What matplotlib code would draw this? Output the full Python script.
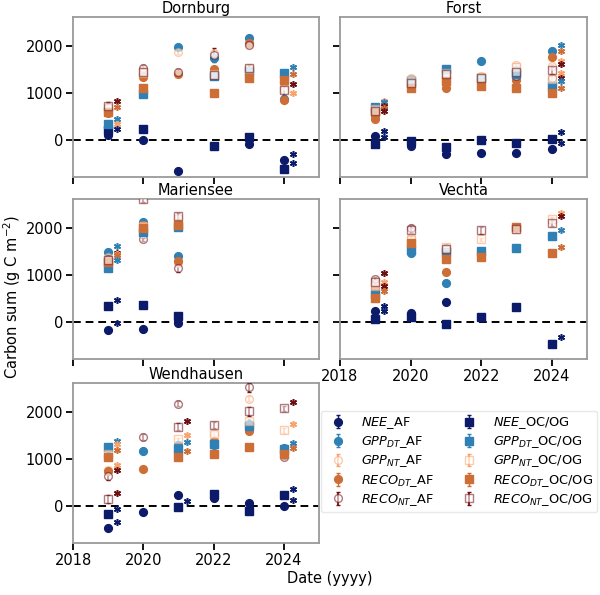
import numpy as np
import matplotlib.pyplot as plt
from matplotlib.colors import to_rgba

n = np.nan
YEARS = [2019, 2020, 2021, 2022, 2023, 2024]
SITES = ["Dornburg", "Forst", "Mariensee", "Vechta", "Wendhausen"]
SERIES = ["NEE", "GPP_DT", "GPP_NT", "RECO_DT", "RECO_NT"]
SYSTEMS = ["AF", "OC"]
SYSTEM_LABELS = {"AF": "AF", "OC": "OC/OG"}
SERIES_LABELS = {"NEE": r"$NEE$", "GPP_DT": r"$GPP_{DT}$", "GPP_NT": r"$GPP_{NT}$",
                 "RECO_DT": r"$RECO_{DT}$", "RECO_NT": r"$RECO_{NT}$"}
COLORS = {"NEE": "#0c1a6a", "GPP_DT": "#2e80b5", "GPP_NT": "#f8a36c",
          "RECO_DT": "#cc6e36", "RECO_NT": "#6e0f14"}
X_TICKS = [2018, 2020, 2022, 2024]
Y_TICKS = [0, 1000, 2000]

DORNBURG = {
    "NEE_AF": [90, 0, -665, n, -90, -430],
    "NEE_OC": [200, 225, n, -140, 50, -630],
    "GPP_DT_AF": [260, 1400, 1980, 1750, 2170, 870],
    "GPP_DT_OC": [330, 980, n, 1360, 1465, 1430],
    "GPP_NT_AF": [650, 1480, 1870, 1855, 2040, 1150],
    "GPP_NT_OC": [680, 1430, n, 1400, 1500, 1080],
    "RECO_DT_AF": [560, 1340, 1395, 1500, 2070, 840],
    "RECO_DT_OC": [580, 1100, n, 1005, 1310, 1270],
    "RECO_NT_AF": [700, 1530, 1440, 1800, 2030, 1230],
    "RECO_NT_OC": [720, 1450, n, 1380, 1530, 1055],
}
DORNBURG_ERR = {"GPP_NT_AF": [40, 40, 40, 60, 40, 40], "GPP_NT_OC": [40, 40, n, 40, 40, 40],
                "RECO_NT_AF": [80, 70, 60, 150, 60, 60], "RECO_NT_OC": [80, 80, n, 60, 70, 110]}
DORNBURG_STARS = [(2019, "RECO_NT", 830), (2019, "RECO_DT", 690), (2019, "GPP_DT", 450),
                  (2019, "GPP_NT", 340), (2019, "NEE", 230),
                  (2024, "GPP_DT", 1555), (2024, "RECO_DT", 1395), (2024, "RECO_NT", 1195),
                  (2024, "GPP_NT", 1005), (2024, "NEE", -305), (2024, "NEE", -495)]

FORST = {
    "NEE_AF": [85, -140, -305, -290, -290, -200],
    "NEE_OC": [-100, -40, -165, 0, -80, 15],
    "GPP_DT_AF": [520, 1290, 1220, 1680, 1480, 1890],
    "GPP_DT_OC": [700, 1250, 1500, 1310, 1400, 1150],
    "GPP_NT_AF": [560, 1320, 1300, 1360, 1600, 1570],
    "GPP_NT_OC": [650, 1280, 1420, 1330, 1550, 1300],
    "RECO_DT_AF": [440, 1150, 1100, 1250, 1280, 1770],
    "RECO_DT_OC": [580, 1110, 1250, 1150, 1110, 985],
    "RECO_NT_AF": [600, 1250, 1350, 1300, 1350, 1320],
    "RECO_NT_OC": [620, 1200, 1400, 1320, 1450, 1480],
}
FORST_ERR = {"GPP_NT_AF": [40, 40, 40, 40, 40, 40], "GPP_NT_OC": [40, 40, 40, 40, 40, 40],
             "RECO_NT_AF": [60, 60, 60, 60, 60, 80], "RECO_NT_OC": [60, 60, 60, 60, 60, 80]}
FORST_STARS = [(2019, "GPP_NT", 830), (2019, "GPP_DT", 800), (2019, "RECO_NT", 720),
               (2019, "RECO_DT", 680), (2019, "RECO_NT", 615), (2019, "NEE", 190), (2019, "NEE", 50),
               (2024, "GPP_DT", 2020), (2024, "RECO_DT", 1890), (2024, "GPP_NT", 1690),
               (2024, "RECO_NT", 1620), (2024, "GPP_NT", 1430), (2024, "RECO_NT", 1320),
               (2024, "GPP_DT", 1250), (2024, "RECO_DT", 1110), (2024, "NEE", 155), (2024, "NEE", -80)]

MARIENSEE = {
    "NEE_AF": [-185, -155, -40, n, n, n],
    "NEE_OC": [325, 355, 125, n, n, n],
    "GPP_DT_AF": [1480, 2120, 1400, n, n, n],
    "GPP_DT_OC": [1155, 1910, 2030, n, n, n],
    "GPP_NT_AF": [1380, 2050, 1250, n, n, n],
    "GPP_NT_OC": [1300, 2050, 2200, n, n, n],
    "RECO_DT_AF": [1300, 2060, 1300, n, n, n],
    "RECO_DT_OC": [1275, 2000, 2060, n, n, n],
    "RECO_NT_AF": [1345, 1755, 1140, n, n, n],
    "RECO_NT_OC": [1320, 2620, 2260, n, n, n],
}
MARIENSEE_ERR = {"GPP_NT_AF": [40, 40, 40, n, n, n], "GPP_NT_OC": [40, 40, 40, n, n, n],
                 "RECO_NT_AF": [60, 40, 80, n, n, n], "RECO_NT_OC": [60, 60, 60, n, n, n]}
MARIENSEE_STARS = [(2019, "GPP_DT", 1610), (2019, "RECO_NT", 1470), (2019, "GPP_NT", 1450),
                   (2019, "RECO_DT", 1430), (2019, "GPP_DT", 1320), (2019, "NEE", 470), (2019, "NEE", -40)]

VECHTA = {
    "NEE_AF": [220, 185, 410, n, n, n],
    "NEE_OC": [60, 100, -55, 100, 305, -475],
    "GPP_DT_AF": [610, 1470, 820, n, n, n],
    "GPP_DT_OC": [600, 1520, 1490, 1510, 1565, 1825],
    "GPP_NT_AF": [800, 1800, 1500, n, n, n],
    "GPP_NT_OC": [750, 1750, 1600, 1755, 1980, 2200],
    "RECO_DT_AF": [715, 1635, 1060, n, n, n],
    "RECO_DT_OC": [500, 1680, 1330, 1385, 2020, 1460],
    "RECO_NT_AF": [920, 2000, 1575, n, n, n],
    "RECO_NT_OC": [850, 1950, 1560, 1950, 1970, 2110],
}
VECHTA_ERR = {"GPP_NT_AF": [40, 40, 40, n, n, n], "GPP_NT_OC": [40, 40, 40, 40, 40, 40],
              "RECO_NT_AF": [40, 60, 60, n, n, n], "RECO_NT_OC": [40, 60, 60, 80, 60, 60]}
VECHTA_STARS = [(2019, "RECO_NT", 1045), (2019, "GPP_NT", 855), (2019, "RECO_NT", 765),
                (2019, "RECO_DT", 645), (2019, "NEE", 340), (2019, "NEE", 235),
                (2024, "GPP_NT", 2320), (2024, "RECO_NT", 2250), (2024, "GPP_DT", 1950),
                (2024, "RECO_DT", 1600), (2024, "NEE", -335)]

WENDHAUSEN = {
    "NEE_AF": [-470, -140, 235, 165, 55, 0],
    "NEE_OC": [-190, n, -20, 250, -120, 220],
    "GPP_DT_AF": [1050, 1170, 1295, 1295, 1750, 1225],
    "GPP_DT_OC": [1250, n, 1200, 1320, 1700, 1200],
    "GPP_NT_AF": [760, n, n, 1535, 2285, 1150],
    "GPP_NT_OC": [1100, n, 1415, 1540, 1800, 1605],
    "RECO_DT_AF": [740, 780, 1150, 1380, 1600, 1100],
    "RECO_DT_OC": [1045, n, 1045, 1100, 1255, 1100],
    "RECO_NT_AF": [635, 1465, 2180, n, 2525, 1040],
    "RECO_NT_OC": [140, n, 1685, 1720, 2015, 2075],
}
WENDHAUSEN_ERR = {"GPP_NT_AF": [40, n, n, 40, 50, 40], "GPP_NT_OC": [40, n, 40, 40, 40, 60],
                  "RECO_NT_AF": [90, 60, 50, n, 90, 50], "RECO_NT_OC": [90, n, 80, 60, 100, 50]}
WENDHAUSEN_STARS = [(2019, "GPP_DT", 1380), (2019, "GPP_NT", 1310), (2019, "RECO_DT", 1180),
                    (2019, "GPP_NT", 870), (2019, "RECO_NT", 765), (2019, "RECO_NT", 260),
                    (2019, "NEE", -70), (2019, "NEE", -360),
                    (2021, "RECO_NT", 1805), (2021, "GPP_NT", 1510), (2021, "GPP_DT", 1360),
                    (2021, "RECO_DT", 1170), (2021, "NEE", 105),
                    (2024, "RECO_NT", 2215), (2024, "GPP_NT", 1735), (2024, "GPP_DT", 1345),
                    (2024, "RECO_DT", 1225), (2024, "NEE", 355), (2024, "NEE", 120)]

SITE_DATA = [DORNBURG, FORST, MARIENSEE, VECHTA, WENDHAUSEN]
SITE_ERR = [DORNBURG_ERR, FORST_ERR, MARIENSEE_ERR, VECHTA_ERR, WENDHAUSEN_ERR]
SITE_STARS = [DORNBURG_STARS, FORST_STARS, MARIENSEE_STARS, VECHTA_STARS, WENDHAUSEN_STARS]

plt.rcParams['font.family'] = ['DejaVu Sans']
fig = plt.figure(figsize=(6.0, 5.95), dpi=100)

W, H = 600, 595
def px_axes(x0, y0, x1, y1):
    return fig.add_axes([x0 / W, 1 - y1 / H, (x1 - x0) / W, (y1 - y0) / H])

positions = [(73, 17, 319, 177), (340, 17, 587, 177),
             (73, 199, 319, 359), (340, 199, 587, 359),
             (73, 383, 319, 543)]

MS = 5.6
handles = {}
for i, (site, pos) in enumerate(zip(SITES, positions)):
    ax = px_axes(*pos)
    data = SITE_DATA[i]
    errs = SITE_ERR[i]
    ax.axhline(0, color='black', ls='--', lw=1.4, zorder=1, dashes=(4, 2.5))
    for sys_ in SYSTEMS:
        for s in SERIES:
            key = f"{s}_{sys_}"
            vals = np.array(data[key], dtype=float)
            err = np.array(errs.get(key, [0] * len(YEARS)), dtype=float)
            c = COLORS[s]
            marker = 'o' if sys_ == "AF" else 's'
            if s.endswith("NT"):
                h = ax.errorbar(YEARS, vals, yerr=err, fmt=marker, ms=MS,
                                mfc=to_rgba('white', 0.6), mec=to_rgba(c, 0.55), mew=1.0,
                                ecolor=c, elinewidth=1.3, capsize=1.5, capthick=1.0, zorder=3)
            else:
                h = ax.errorbar(YEARS, vals, yerr=err, fmt=marker, ms=MS,
                                color=c, mec=c, ecolor=c, elinewidth=1.0, capsize=1.5, zorder=3)
            handles[key] = h
    for (yr, s, v) in SITE_STARS[i]:
        ax.plot(yr + 0.25, v, ls='none', marker=(6, 2, 0), ms=5, mew=1.1,
                color=COLORS[s], zorder=4)
    ax.set_title(site, fontsize=10.5, pad=3)
    ax.set_xlim(2018, 2025)
    ax.set_ylim(-800, 2620)
    ax.set_xticks(X_TICKS)
    ax.set_yticks(Y_TICKS)
    for sp in ax.spines.values():
        sp.set_color('#9a9a9a')
        sp.set_linewidth(1.3)
    ax.tick_params(axis='both', labelsize=10.5, length=5, width=1.3, color='black', pad=2)
    if i % 2 == 1:
        ax.tick_params(labelleft=False)
    if i not in (3, 4):
        ax.tick_params(labelbottom=False)

leg_handles, leg_labels = [], []
for sys_ in SYSTEMS:
    for s in SERIES:
        leg_handles.append(handles[f"{s}_{sys_}"])
        leg_labels.append(f"{SERIES_LABELS[s]}_{SYSTEM_LABELS[sys_]}")
fig.legend(leg_handles, leg_labels, ncol=2, loc='center', bbox_to_anchor=(459 / W, 1 - 461.5 / H),
           fontsize=9.3, frameon=True, edgecolor='#e8e8e8', framealpha=1.0,
           columnspacing=1.8, handletextpad=0.85, handlelength=1.9,
           labelspacing=0.25, borderpad=0.35, borderaxespad=0.0)

fig.text(12 / W, 0.5, r"Carbon sum (g C m$^{-2}$)", rotation=90, ha='center', va='center', fontsize=10.5)
fig.text(330 / W, 1 - 578 / H, "Date (yyyy)", ha='center', va='center', fontsize=10.5)

fig.savefig("out.png", dpi=100)
